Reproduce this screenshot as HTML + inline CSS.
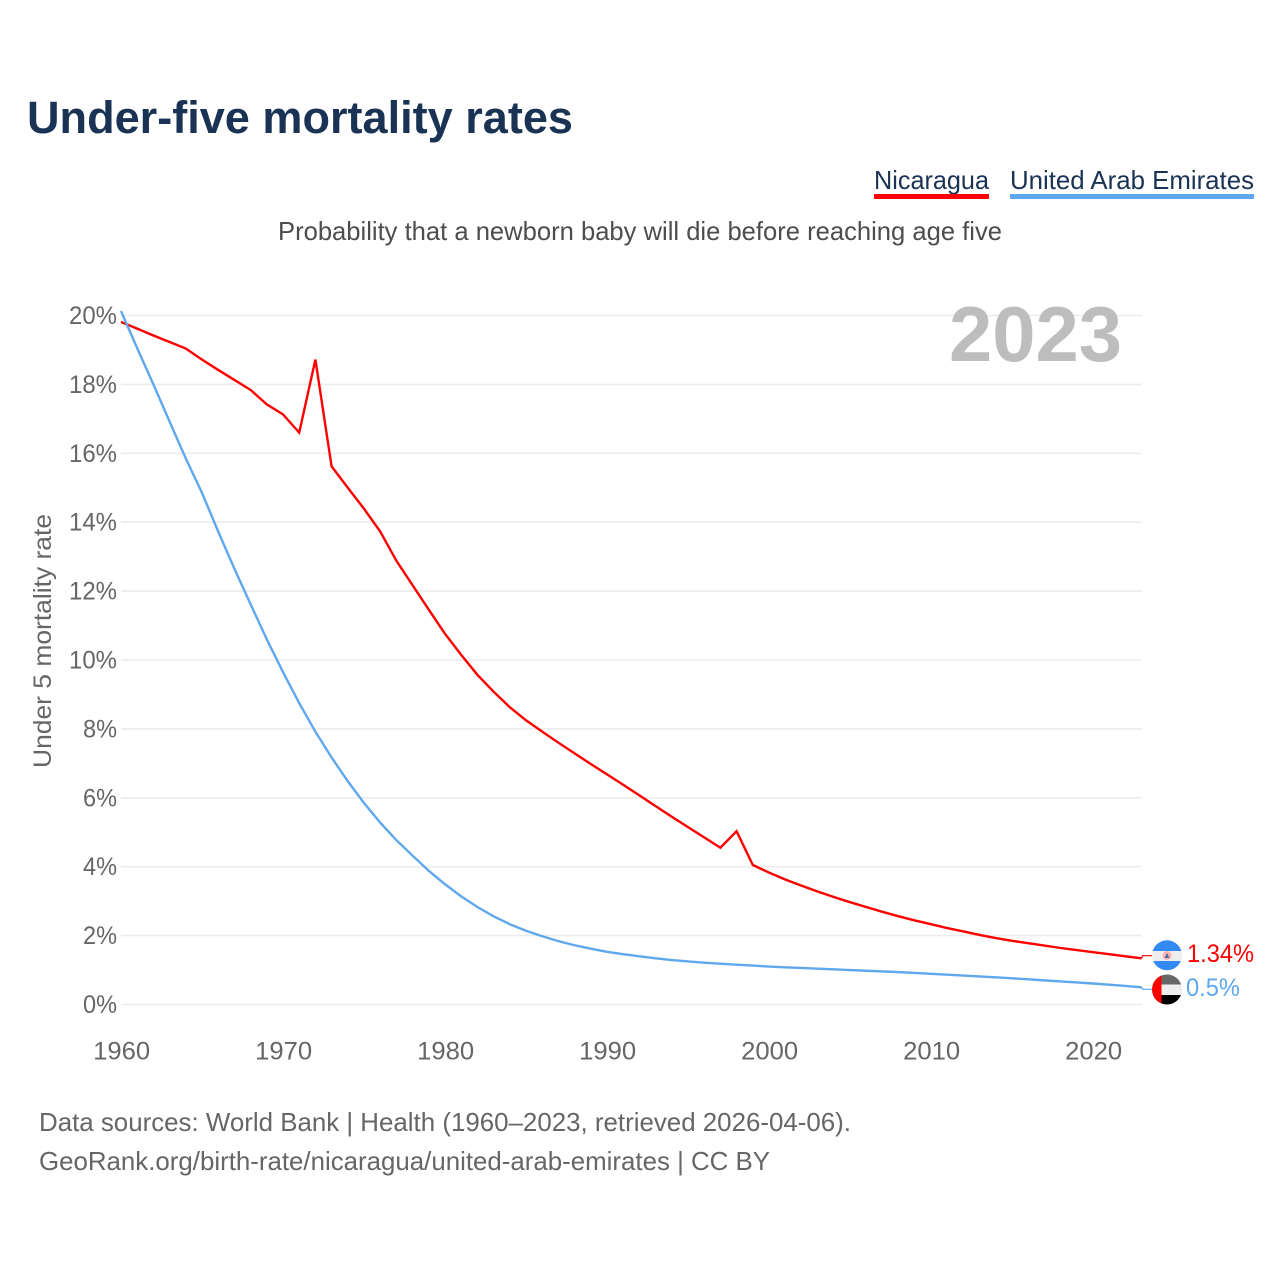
<!DOCTYPE html>
<html lang="en">
<head>
<meta charset="utf-8">
<title>Under-five mortality rates</title>
<style>
html,body{margin:0;padding:0;background:#fff;width:1280px;height:1280px;overflow:hidden}
svg{display:block}
text{font-family:"Liberation Sans",sans-serif}
</style>
</head>
<body>
<svg id="chart" xmlns="http://www.w3.org/2000/svg" width="1280" height="1280" viewBox="0 0 1280 1280">
  <rect width="1280" height="1280" fill="#fff"/>
  <text x="27" y="133" font-size="45" font-weight="700" fill="#1a3354" textLength="546" lengthAdjust="spacingAndGlyphs">Under-five mortality rates</text>
  <text x="874" y="189" font-size="26" fill="#1a3354" textLength="115" lengthAdjust="spacingAndGlyphs">Nicaragua</text>
  <rect x="874" y="194" width="115" height="5" fill="#ff0000"/>
  <text x="1010" y="189" font-size="26" fill="#1a3354" textLength="244" lengthAdjust="spacingAndGlyphs">United Arab Emirates</text>
  <rect x="1010" y="194" width="244" height="5" fill="#5fa8ee"/>
  <text x="278" y="240" font-size="26" fill="#4d4d4d" textLength="724" lengthAdjust="spacingAndGlyphs">Probability that a newborn baby will die before reaching age five</text>
  <g id="grid"></g>
  <g id="yticks"></g>
  <g id="xticks"></g>
  <text transform="translate(51,641) rotate(-90)" text-anchor="middle" font-size="25" fill="#666" textLength="254" lengthAdjust="spacingAndGlyphs">Under 5 mortality rate</text>
  <text x="949" y="361" font-size="78" font-weight="700" fill="#bdbdbd" textLength="173" lengthAdjust="spacingAndGlyphs">2023</text>
  <g id="series"></g>
  <defs>
    <clipPath id="flag-clip-ni"><circle cx="1167" cy="955.3" r="15"/></clipPath>
    <clipPath id="flag-clip-ae"><circle cx="1167" cy="989.5" r="15"/></clipPath>
  </defs>
  <g clip-path="url(#flag-clip-ni)">
    <rect x="1152" y="940" width="30" height="31" fill="#eeeeee"/>
    <rect x="1152" y="940" width="30" height="11" fill="#338af3"/>
    <rect x="1152" y="961" width="30" height="10" fill="#338af3"/>
    <circle cx="1167" cy="955.5" r="4.5" fill="#ffb3b3"/>
    <path d="M1164.5 958 L1167 953 L1169.5 958 Z" fill="#4a6fa5"/>
  </g>
  <g clip-path="url(#flag-clip-ae)">
    <rect x="1152" y="974" width="30" height="10.5" fill="#666666"/>
    <rect x="1152" y="984.5" width="30" height="10.5" fill="#eeeeee"/>
    <rect x="1152" y="995" width="30" height="10" fill="#000000"/>
    <rect x="1152" y="974" width="9.5" height="31" fill="#ff0000"/>
  </g>
  <text id="end-label-ni" x="1187" y="962" font-size="25" fill="#ff0000" textLength="67" lengthAdjust="spacingAndGlyphs"></text>
  <text id="end-label-ae" x="1186" y="996" font-size="25" fill="#5fa8ee" textLength="54" lengthAdjust="spacingAndGlyphs"></text>
  <text x="39" y="1131" font-size="26" fill="#666" textLength="812" lengthAdjust="spacingAndGlyphs">Data sources: World Bank | Health (1960–2023, retrieved 2026-04-06).</text>
  <text x="39" y="1170" font-size="26" fill="#666" textLength="731" lengthAdjust="spacingAndGlyphs">GeoRank.org/birth-rate/nicaragua/united-arab-emirates | CC BY</text>
</svg>
<script>
const startYear = 1960;
const nicaragua = [19.81,19.62,19.42,19.23,19.04,18.72,18.42,18.13,17.84,17.42,17.13,16.6,18.72,15.62,15.0,14.39,13.73,12.88,12.17,11.46,10.76,10.15,9.57,9.08,8.63,8.25,7.92,7.6,7.29,6.98,6.68,6.38,6.07,5.76,5.45,5.15,4.85,4.55,5.03,4.05,3.83,3.63,3.45,3.28,3.12,2.97,2.83,2.69,2.56,2.44,2.33,2.22,2.12,2.02,1.93,1.85,1.78,1.71,1.64,1.58,1.52,1.46,1.4,1.34];
const uae = [20.13,19.05,18.0,16.92,15.85,14.85,13.73,12.65,11.62,10.6,9.65,8.75,7.92,7.17,6.48,5.85,5.28,4.77,4.32,3.88,3.49,3.14,2.83,2.56,2.33,2.14,1.98,1.84,1.72,1.62,1.53,1.46,1.4,1.34,1.29,1.25,1.215,1.185,1.155,1.13,1.1,1.08,1.06,1.04,1.02,1.0,0.98,0.96,0.94,0.915,0.89,0.865,0.84,0.815,0.79,0.76,0.73,0.7,0.67,0.64,0.61,0.575,0.54,0.5];
const yTickValues = [0,2,4,6,8,10,12,14,16,18,20];
const xTickValues = [1960,1970,1980,1990,2000,2010,2020];
const endLabels = ["1.34%","0.5%"];

const SVGNS = "http://www.w3.org/2000/svg";
function xScale(year){ return 121 + (year - 1960) * 16.2; }
function yScale(v){ return 1004.5 - v * 34.45; }
function mk(tag, attrs, parent){
  const el = document.createElementNS(SVGNS, tag);
  for (const k in attrs) el.setAttribute(k, attrs[k]);
  parent.appendChild(el);
  return el;
}
const grid = document.getElementById("grid");
const yticks = document.getElementById("yticks");
const xticks = document.getElementById("xticks");
const series = document.getElementById("series");

yTickValues.forEach(function(v){
  const line = mk("line", {x1:xScale(1960), x2:xScale(2023), y1:yScale(v), y2:yScale(v), stroke:"#ececec", "stroke-width":1.6}, grid);
  
  
  const label = v + "%";
  const t = mk("text", {x:117, y:yScale(v) + 8.5, "text-anchor":"end", "font-size":25, fill:"#666",
    textLength:(label.length - 1) * 14 + 20, lengthAdjust:"spacingAndGlyphs"}, yticks);
  
  
  t.textContent = label;
});

xTickValues.forEach(function(y){
  const t = mk("text", {x:xScale(y) + 0.7, y:1059.5, "text-anchor":"middle", "font-size":25, fill:"#666",
    textLength:57, lengthAdjust:"spacingAndGlyphs"}, xticks);
  
  
  t.textContent = y;
});

function toPoints(values){
  return values.map(function(v, i){ return xScale(startYear + i).toFixed(2) + "," + yScale(v).toFixed(2); }).join(" ");
}
function drawSeries(values, color, flagY, name){
  const line = mk("polyline", {points:toPoints(values), fill:"none", stroke:color, "stroke-width":2.4, "stroke-linejoin":"miter"}, series);
  
  
  const lastX = xScale(startYear + values.length - 1);
  const lastY = yScale(values[values.length - 1]);
  const conn = mk("polyline", {points:lastX + "," + lastY + " " + (lastX + 1) + "," + flagY + " 1152," + flagY, fill:"none", stroke:color, "stroke-width":1.2}, series);
  
  
}
drawSeries(nicaragua, "#ff0000", 955.7, "line-nicaragua");
drawSeries(uae, "#5fa8ee", 989.3, "line-uae");
document.getElementById("end-label-ni").textContent = endLabels[0];
document.getElementById("end-label-ae").textContent = endLabels[1];
</script>
</body>
</html>
